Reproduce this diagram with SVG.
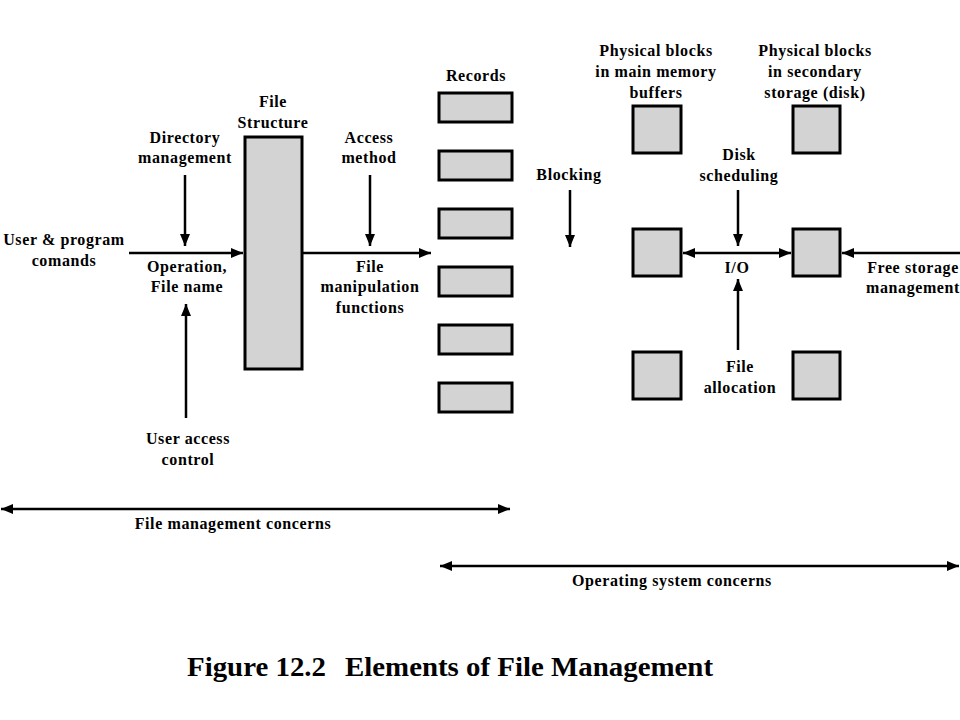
<svg xmlns="http://www.w3.org/2000/svg" width="960" height="720" viewBox="0 0 960 720">
<defs>
<style>
.t{font-family:"Liberation Serif","Times New Roman",serif;font-weight:bold;font-size:16px;letter-spacing:0.6px;fill:#000;text-anchor:middle}
.cap{font-family:"Liberation Serif","Times New Roman",serif;font-weight:bold;font-size:27px;fill:#000}
.box{fill:#d3d3d3;stroke:#000;stroke-width:3}
.ln{stroke:#000;stroke-width:2.5;fill:none}
</style>
<marker id="ah" viewBox="0 0 12 10" refX="12" refY="5" markerWidth="12" markerHeight="10" markerUnits="userSpaceOnUse" orient="auto-start-reverse">
<path d="M0,0 L12,5 L0,10 Z" fill="#000"/>
</marker>
</defs>
<rect width="960" height="720" fill="#fff"/>

<g id="file-structure">
<rect class="box" x="245" y="137" width="57" height="232"/>
<text class="t" x="273" y="107">File</text>
<text class="t" x="273" y="128">Structure</text>
</g>

<g id="records">
<rect class="box" x="439" y="93" width="73" height="29"/>
<rect class="box" x="439" y="151" width="73" height="29"/>
<rect class="box" x="439" y="209" width="73" height="29"/>
<rect class="box" x="439" y="267" width="73" height="29"/>
<rect class="box" x="439" y="325" width="73" height="29"/>
<rect class="box" x="439" y="383" width="73" height="29"/>
<text class="t" x="476" y="81">Records</text>
</g>

<g id="main-memory-buffers">
<rect class="box" x="633" y="106" width="48" height="47"/>
<rect class="box" x="633" y="229" width="48" height="47"/>
<rect class="box" x="633" y="352" width="48" height="47"/>
<text class="t" x="656" y="56">Physical blocks</text>
<text class="t" x="656" y="77">in main memory</text>
<text class="t" x="656" y="98">buffers</text>
</g>

<g id="secondary-storage">
<rect class="box" x="793" y="106" width="47" height="47"/>
<rect class="box" x="793" y="229" width="47" height="47"/>
<rect class="box" x="793" y="352" width="47" height="47"/>
<text class="t" x="815" y="56">Physical blocks</text>
<text class="t" x="815" y="77">in secondary</text>
<text class="t" x="815" y="98">storage (disk)</text>
</g>

<g id="labels">
<text class="t" x="185" y="143">Directory</text>
<text class="t" x="185" y="163">management</text>
<text class="t" x="64" y="245">User &amp; program</text>
<text class="t" x="64" y="266">comands</text>
<text class="t" x="187" y="272">Operation,</text>
<text class="t" x="187" y="292">File name</text>
<text class="t" x="188" y="444">User access</text>
<text class="t" x="188" y="465">control</text>
<text class="t" x="369" y="143">Access</text>
<text class="t" x="369" y="163">method</text>
<text class="t" x="370" y="272">File</text>
<text class="t" x="370" y="292">manipulation</text>
<text class="t" x="370" y="313">functions</text>
<text class="t" x="569" y="180">Blocking</text>
<text class="t" x="739" y="160">Disk</text>
<text class="t" x="739" y="181">scheduling</text>
<text class="t" x="737" y="273">I/O</text>
<text class="t" x="913" y="273">Free storage</text>
<text class="t" x="913" y="293">management</text>
<text class="t" x="740" y="372">File</text>
<text class="t" x="740" y="393">allocation</text>
<text class="t" x="233" y="529">File management concerns</text>
<text class="t" x="672" y="586">Operating system concerns</text>
</g>

<g id="connectors">
<line class="ln" x1="129" y1="253" x2="243" y2="253" marker-end="url(#ah)"/>
<line class="ln" x1="185" y1="175" x2="185" y2="246" marker-end="url(#ah)"/>
<line class="ln" x1="186" y1="418" x2="186" y2="304" marker-end="url(#ah)"/>
<line class="ln" x1="302" y1="253" x2="431" y2="253" marker-end="url(#ah)"/>
<line class="ln" x1="370" y1="175" x2="370" y2="246" marker-end="url(#ah)"/>
<line class="ln" x1="570" y1="190" x2="570" y2="247" marker-end="url(#ah)"/>
<line class="ln" x1="738" y1="190" x2="738" y2="246" marker-end="url(#ah)"/>
<line class="ln" x1="683" y1="253" x2="791" y2="253" marker-start="url(#ah)" marker-end="url(#ah)"/>
<line class="ln" x1="738" y1="350" x2="738" y2="279" marker-end="url(#ah)"/>
<line class="ln" x1="960" y1="253" x2="842" y2="253" marker-end="url(#ah)"/>
<line class="ln" x1="1" y1="509" x2="510" y2="509" marker-start="url(#ah)" marker-end="url(#ah)"/>
<line class="ln" x1="440" y1="566" x2="959" y2="566" marker-start="url(#ah)" marker-end="url(#ah)"/>
</g>

<g id="caption">
<text class="cap" x="187" y="676" textLength="139" lengthAdjust="spacingAndGlyphs">Figure 12.2</text>
<text class="cap" x="345" y="676" textLength="368" lengthAdjust="spacingAndGlyphs">Elements of File Management</text>
</g>
</svg>
